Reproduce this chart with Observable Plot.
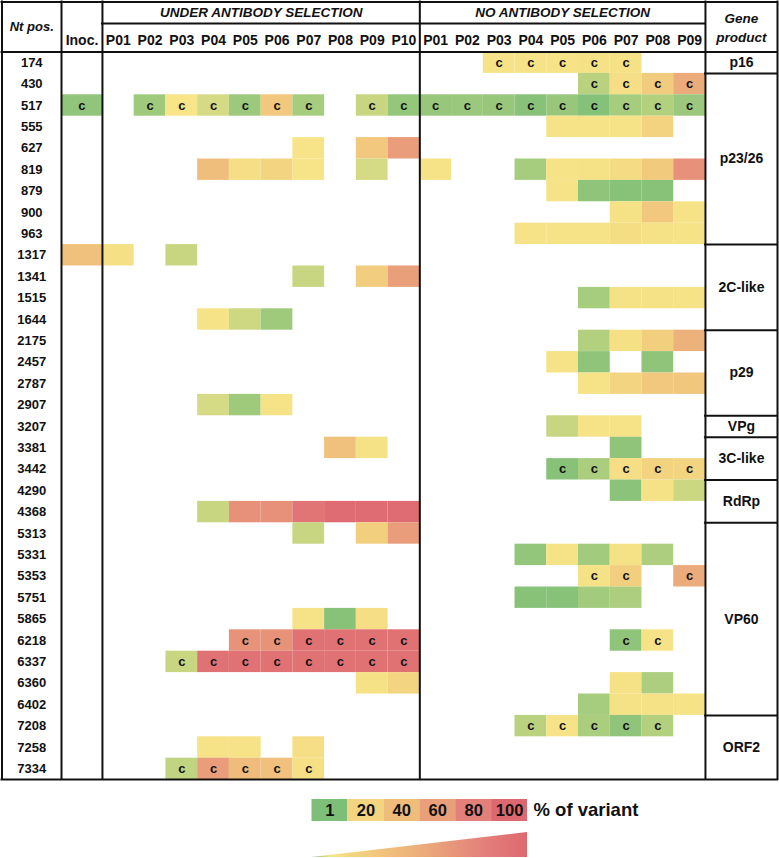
<!DOCTYPE html>
<html><head><meta charset="utf-8">
<script src="https://cdn.jsdelivr.net/npm/d3@7"></script>
<script src="https://cdn.jsdelivr.net/npm/@observablehq/plot@0.6"></script>
<style>
html,body{margin:0;padding:0;background:#fff;}
svg{display:block;}
</style></head><body><div id="chart"></div>
<script>
// ---------- DATA ----------
const positions = [174,430,517,555,627,819,879,900,963,1317,1341,1515,1644,2175,2457,2787,2907,3207,3381,3442,4290,4368,5313,5331,5353,5751,5865,6218,6337,6360,6402,7208,7258,7334];
const passagesUA = ["P01","P02","P03","P04","P05","P06","P07","P08","P09","P10"];
const passagesNA = ["P01","P02","P03","P04","P05","P06","P07","P08","P09"];
const groupLabels = ["UNDER ANTIBODY SELECTION","NO ANTIBODY SELECTION"];
const geneNames = ["p16","p23/26","2C-like","p29","VPg","3C-like","RdRp","VP60","ORF2"];
const geneFirst = [174,430,1317,2175,3207,3381,4290,5313,7208];
const legendTicks = [1,20,40,60,80,100];
// [Nt pos, column, % of variant, consensus mark]
const cells = [
 [174,"NA P03",11,"c"],[174,"NA P04",11,"c"],[174,"NA P05",11,"c"],[174,"NA P06",12,"c"],[174,"NA P07",12,"c"],
 [430,"NA P06",5.5,"c"],[430,"NA P07",14,"c"],[430,"NA P08",27,"c"],[430,"NA P09",52,"c"],
 [517,"Inoc",2.5,"c"],[517,"UA P02",3.5,"c"],[517,"UA P03",10,"c"],[517,"UA P04",7.5,"c"],[517,"UA P05",3.3,"c"],[517,"UA P06",30,"c"],[517,"UA P07",4,"c"],[517,"UA P09",6.5,"c"],[517,"UA P10",2.8,"c"],
 [517,"NA P01",3,"c"],[517,"NA P02",3.2,"c"],[517,"NA P03",3,"c"],[517,"NA P04",1.8,"c"],[517,"NA P05",3,"c"],[517,"NA P06",1.6,"c"],[517,"NA P07",4,"c"],[517,"NA P08",5,"c"],[517,"NA P09",3.2,"c"],
 [555,"NA P05",11,""],[555,"NA P06",11,""],[555,"NA P07",11,""],[555,"NA P08",22,""],
 [627,"UA P07",10.5,""],[627,"UA P09",30,""],[627,"UA P10",62,""],
 [819,"UA P04",38,""],[819,"UA P05",14,""],[819,"UA P06",20,""],[819,"UA P07",10.5,""],[819,"UA P09",7.5,""],
 [819,"NA P01",11,""],[819,"NA P04",4,""],[819,"NA P05",11,""],[819,"NA P06",12,""],[819,"NA P07",16,""],[819,"NA P08",28,""],[819,"NA P09",70,""],
 [879,"NA P05",11,""],[879,"NA P06",2.3,""],[879,"NA P07",1.8,""],[879,"NA P08",1.8,""],
 [900,"NA P07",12,""],[900,"NA P08",30,""],[900,"NA P09",11,""],
 [963,"NA P04",11,""],[963,"NA P05",11,""],[963,"NA P06",11,""],[963,"NA P07",15,""],[963,"NA P08",12,""],[963,"NA P09",11,""],
 [1317,"Inoc",36,""],[1317,"UA P01",13,""],[1317,"UA P03",6.5,""],
 [1341,"UA P07",6.5,""],[1341,"UA P09",26,""],[1341,"UA P10",60,""],
 [1515,"NA P06",4,""],[1515,"NA P07",12,""],[1515,"NA P08",12,""],[1515,"NA P09",11,""],
 [1644,"UA P04",11,""],[1644,"UA P05",7,""],[1644,"UA P06",3.5,""],
 [2175,"NA P06",5,""],[2175,"NA P07",13,""],[2175,"NA P08",25,""],[2175,"NA P09",48,""],
 [2457,"NA P05",11,""],[2457,"NA P06",2.3,""],[2457,"NA P08",2.3,""],
 [2787,"NA P06",11,""],[2787,"NA P07",20,""],[2787,"NA P08",30,""],[2787,"NA P09",32,""],
 [2907,"UA P04",7.5,""],[2907,"UA P05",3.5,""],[2907,"UA P06",11,""],
 [3207,"NA P05",6.5,""],[3207,"NA P06",11,""],[3207,"NA P07",11,""],
 [3381,"UA P08",36,""],[3381,"UA P09",12,""],[3381,"NA P07",2.3,""],
 [3442,"NA P05",1.8,"c"],[3442,"NA P06",4.3,"c"],[3442,"NA P07",14,"c"],[3442,"NA P08",22,"c"],[3442,"NA P09",20,"c"],
 [4290,"NA P07",2,""],[4290,"NA P08",12,""],[4290,"NA P09",6.8,""],
 [4368,"UA P04",6.5,""],[4368,"UA P05",70,""],[4368,"UA P06",70,""],[4368,"UA P07",90,""],[4368,"UA P08",97,""],[4368,"UA P09",97,""],[4368,"UA P10",97,""],
 [5313,"UA P07",6.5,""],[5313,"UA P09",25,""],[5313,"UA P10",62,""],
 [5331,"NA P04",2.6,""],[5331,"NA P05",11,""],[5331,"NA P06",3.8,""],[5331,"NA P07",12,""],[5331,"NA P08",4.5,""],
 [5353,"NA P06",12,"c"],[5353,"NA P07",24,"c"],[5353,"NA P09",52,"c"],
 [5751,"NA P04",1.8,""],[5751,"NA P05",1.8,""],[5751,"NA P06",3.8,""],[5751,"NA P07",4.5,""],
 [5865,"UA P07",11,""],[5865,"UA P08",1.8,""],[5865,"UA P09",14,""],
 [6218,"UA P05",68,"c"],[6218,"UA P06",68,"c"],[6218,"UA P07",92,"c"],[6218,"UA P08",92,"c"],[6218,"UA P09",92,"c"],[6218,"UA P10",92,"c"],
 [6218,"NA P07",2.3,"c"],[6218,"NA P08",11,"c"],
 [6337,"UA P03",6.5,"c"],[6337,"UA P04",92,"c"],[6337,"UA P05",92,"c"],[6337,"UA P06",92,"c"],[6337,"UA P07",92,"c"],[6337,"UA P08",92,"c"],[6337,"UA P09",92,"c"],[6337,"UA P10",92,"c"],
 [6360,"UA P09",12,""],[6360,"UA P10",20,""],[6360,"NA P07",12,""],[6360,"NA P08",4.5,""],
 [6402,"NA P06",4,""],[6402,"NA P07",12,""],[6402,"NA P08",12,""],[6402,"NA P09",11,""],
 [7208,"NA P04",5.5,"c"],[7208,"NA P05",11,"c"],[7208,"NA P06",4.3,"c"],[7208,"NA P07",2.3,"c"],[7208,"NA P08",5,"c"],
 [7258,"UA P04",11,""],[7258,"UA P05",11,""],[7258,"UA P07",14,""],
 [7334,"UA P03",6,"c"],[7334,"UA P04",62,"c"],[7334,"UA P05",40,"c"],[7334,"UA P06",37,"c"],[7334,"UA P07",13,"c"]
];

// ---------- SCALES / LAYOUT ----------
const colorDomain = [1,10,20,40,60,80,100];
const colorRange = ["#7dbf78","#f7e588","#f3d480","#efbc7b","#e9a07a","#e4807a","#de6870"];
const color = {type:"linear", domain: colorDomain, range: colorRange, interpolate:"rgb"};

const inocW = 1.29, ntW = 1.875, geneW = 2.27;
const nUA = passagesUA.length, nNA = passagesNA.length, nP = nUA + nNA;
const xLeft = -inocW - ntW, xRight = nP + geneW;
const yTop = -2.336, yMid = -1.33, nRows = positions.length;
const rowIndex = new Map(positions.map((p,i)=>[p,i]));

function colBounds(col){
  if (col === "Inoc") return [-inocW, 0];
  const [g,p] = col.split(" ");
  const k = g === "UA" ? passagesUA.indexOf(p) : nUA + passagesNA.indexOf(p);
  return [k, k+1];
}
const cellData = cells.map(([pos,col,value,flag]) => {
  const [x1,x2] = colBounds(col); const r = rowIndex.get(pos);
  return {x1, x2, y1:r, y2:r+1, value, flag};
});
const colHeaders = [
  {label:"Inoc.", x:-inocW/2},
  ...passagesUA.map((p,k)=>({label:p, x:k+0.5})),
  ...passagesNA.map((p,k)=>({label:p, x:nUA+k+0.5}))
];
const groupHeaders = [
  {label:groupLabels[0], x:nUA/2},
  {label:groupLabels[1], x:nUA + nNA/2}
];
const geneStart = geneFirst.map(p=>rowIndex.get(p));
const geneSpans = geneNames.map((g,i)=>({label:g, y0:geneStart[i], y1: i+1<geneStart.length ? geneStart[i+1] : nRows}));

const font = "'Liberation Sans', Arial, Helvetica, sans-serif";
const lineStyle = {stroke:"#111", strokeWidth:2, strokeLinecap:"square"};

const chart = Plot.plot({
  width: 779, height: 781, margin: 0,
  x: {domain:[xLeft, xRight], range:[1.5, 777], axis:null},
  y: {domain:[yTop, nRows], range:[1.5, 779.1], axis:null},
  color,
  style: {fontFamily: font, background:"#fff", color:"#111"},
  marks: [
    Plot.rect(cellData, {x1:"x1", x2:"x2", y1:"y1", y2:"y2", fill:"value"}),
    Plot.text(cellData.filter(d=>d.flag), {x:d=>(d.x1+d.x2)/2, y:d=>d.y1+0.5, text:"flag", fontSize:13, fontWeight:"bold", fill:"#111"}),
    Plot.text(positions, {x: xLeft + ntW/2, y:(d,i)=>i+0.5, text:d=>String(d), fontSize:13, fontWeight:"bold", fill:"#111"}),
    Plot.text(colHeaders, {x:"x", y:-0.54, text:"label", fontSize:14, fontWeight:"bold", fill:"#111"}),
    Plot.text(groupHeaders, {x:"x", y:(yTop+yMid)/2, text:"label", fontSize:13.5, fontWeight:"bold", fontStyle:"italic", fill:"#111"}),
    Plot.text(["Nt pos."], {x: xLeft + ntW/2, y: yTop/2, text:d=>d, fontSize:13, fontWeight:"bold", fontStyle:"italic", fill:"#111"}),
    Plot.text(["Gene\nproduct"], {x: nP + geneW/2, y: yTop/2 - 0.04, text:d=>d, fontSize:13.5, lineHeight:1.4, fontWeight:"bold", fontStyle:"italic", fill:"#111"}),
    Plot.text(geneSpans, {x: nP + geneW/2, y:d=>(d.y0+d.y1)/2, text:"label", fontSize:14, fontWeight:"bold", fill:"#111"}),
    // table lines
    Plot.ruleX([xLeft, -inocW, 0, nUA, nP, xRight], {x:d=>d, y1:yTop, y2:nRows, ...lineStyle}),
    Plot.ruleY([yTop, 0, nRows], {y:d=>d, x1:xLeft, x2:xRight, ...lineStyle}),
    Plot.ruleY([yMid], {y:d=>d, x1:0, x2:nP, ...lineStyle}),
    Plot.ruleY(geneSpans.slice(1).map(d=>d.y0), {y:d=>d, x1:nP, x2:xRight, ...lineStyle})
  ]
});

const rampPts = [{x:0, y:2.636}, {x:legendTicks.length, y:1.5}];
const legend = Plot.plot({
  width: 779, height: 77, margin: 0,
  x: {domain:[0, legendTicks.length], range:[311.5, 527], axis:null},
  y: {domain:[-0.818, 2.682], range:[0, 77], axis:null},
  color,
  style: {fontFamily: font, background:"#fff", color:"#111"},
  marks: [
    Plot.rect(legendTicks, {x1:(d,i)=>i, x2:(d,i)=>i+1, y1:0, y2:1, fill:d=>d}),
    Plot.text(legendTicks, {x:(d,i)=>i+0.5, y:0.5, text:d=>String(d), fontSize:16.5, fontWeight:"bold", fill:"#111"}),
    Plot.text(["% of variant"], {x:legendTicks.length, y:0.5, dx:6, textAnchor:"start", text:d=>d, fontSize:18.5, fontWeight:"bold", fill:"#111"}),
    Plot.areaY(rampPts, {x:"x", y1:2.636, y2:"y", fill:"url(#ramp)"})
  ]
});
const grad = d3.select(legend).insert("defs", ":first-child").append("linearGradient").attr("id","ramp");
colorDomain.forEach((v,i)=>grad.append("stop").attr("offset", (v-1)/99).attr("stop-color", colorRange[i]));

const root = document.getElementById("chart");
root.appendChild(chart);
root.appendChild(legend);
</script></body></html>
